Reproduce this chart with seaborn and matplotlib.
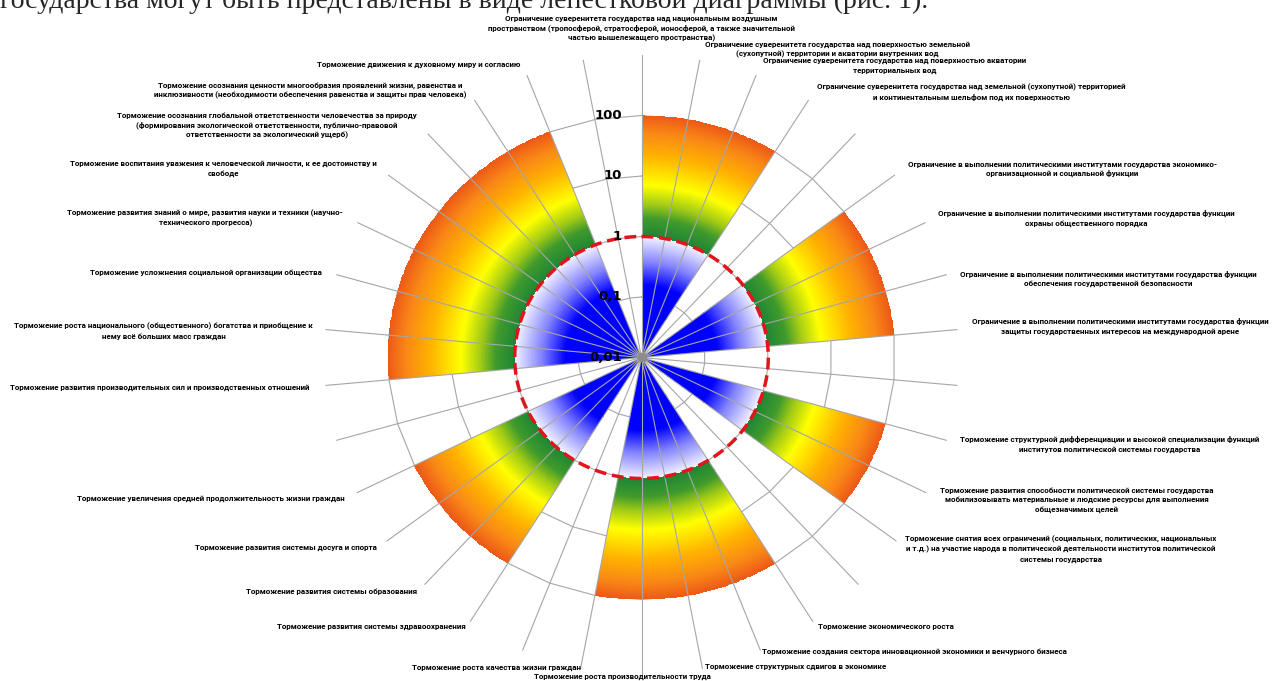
import numpy as np
import matplotlib
matplotlib.use('Agg')
import matplotlib.pyplot as plt
from matplotlib.colors import ListedColormap, Normalize
import seaborn as sns

# ! Spokes of the radar, clockwise from the top ('' = spoke without a caption)
categories = [
    'Ограничение суверенитета государства над национальным воздушным\nпространством (тропосферой, стратосферой, ионосферой, а также значительной\nчастью вышележащего пространства)',
    'Ограничение суверенитета государства над поверхностью земельной\n(сухопутной) территории и акватории внутренних вод',
    'Ограничение суверенитета государства над поверхностью акватории\nтерриториальных вод',
    'Ограничение суверенитета государства над земельной (сухопутной) территорией\nи континентальным шельфом под их поверхностью',
    '',
    'Ограничение в выполнении политическими институтами государства экономико-\nорганизационной и социальной функции',
    'Ограничение в выполнении политическими институтами государства функции\nохраны общественного порядка',
    'Ограничение в выполнении политическими институтами государства функции\nобеспечения государственной безопасности',
    'Ограничение в выполнении политическими институтами государства функции\nзащиты государственных интересов на международной арене',
    '',
    'Торможение структурной дифференциации и высокой специализации функций\nинститутов политической системы государства',
    'Торможение развития способности политической системы государства\nмобилизовывать материальные и людские ресурсы для выполнения\nобщезначимых целей',
    'Торможение снятия всех ограничений (социальных, политических, национальных\nи т.д.) на участие народа в политической деятельности институтов политической\nсистемы государства',
    '',
    'Торможение экономического роста',
    'Торможение создания сектора инновационной экономики и венчурного бизнеса',
    'Торможение структурных сдвигов в экономике',
    'Торможение роста производительности труда',
    'Торможение роста качества жизни граждан',
    '',
    'Торможение развития системы здравоохранения',
    'Торможение развития системы образования',
    'Торможение развития системы досуга и спорта',
    'Торможение увеличения средней продолжительность жизни граждан',
    '',
    'Торможение развития производительных сил и производственных отношений',
    'Торможение роста национального (общественного) богатства и приобщение к\nнему всё больших масс граждан',
    'Торможение усложнения социальной организации общества',
    'Торможение развития знаний о мире, развития науки и техники (научно-\nтехнического прогресса)',
    'Торможение воспитания уважения к человеческой личности, к ее достоинству и\nсвободе',
    'Торможение осознания глобальной ответственности человечества за природу\n(формирования экологической ответственности, публично-правовой\nответственности за экологический ущерб)',
    'Торможение осознания ценности многообразия проявлений жизни, равенства и\nинклюзивности (необходимости обеспечения равенства и защиты прав человека)',
    'Торможение движения к духовному миру и согласию',
    '',
]

# ! Petals: outer value of the sector between spoke k and spoke k+1 (0 = empty)
petal_top = [100, 100, 100, 0, 0, 100, 100, 100, 0, 0, 100, 100,
             0, 0, 100, 100, 100, 100, 0, 0, 100, 100, 100,
             0, 0, 100, 100, 100, 100, 100, 100, 100, 0, 0]
petal_base = 0.01
threshold = 1

r_ticks = [0.01, 0.1, 1, 10, 100]
r_tick_labels = ['0,01', '0,1', '1', '10', '100']

page_text = 'государства могут быть представлены в виде лепестковой диаграммы (рис. 1).'

# gradient stops, in decades above petal_base
inner_stops = [(0.0, '#0000ff'), (1.2, '#0000ff'), (1.6, '#8a8aff'), (2.0, '#f2f2ff')]
outer_stops = [(2.0, '#1e8535'), (2.3, '#3f9a2c'), (2.55, '#a6cd15'), (2.85, '#ffff00'),
               (3.35, '#ffb000'), (3.7, '#f98a16'), (4.0, '#ee5a17')]
grid_color = '#a6a6a6'

# caption nudges in pixels (right, down) from the end of each leader
label_nudge = [(0, -12.5), (5, -11), (7, -10), (8.5, -8), (0, 0), (13.5, -6), (12.5, -4.5),
               (13.5, 4), (15, -3), (0, 0), (13.5, 4), (14, 7), (9, 8), (0, 0), (5, 5),
               (2, 1), (2.5, -2), (-19.5, 1.5), (0, -1), (0, 0), (-5, 5), (-8, 7), (-10, 7),
               (-12, 6), (0, 0), (-16, 2), (-13, 1.5), (-14.5, -2.5), (-14.5, -4),
               (-11.5, -6.5), (-11, -8.5), (-8.5, -9.5), (-7, -11), (0, 0)]


def ramp(stops, per_unit=200):
    cols = []
    for (p0, c0), (p1, c1) in zip(stops[:-1], stops[1:]):
        cols += list(sns.blend_palette([c0, c1], n_colors=int(round((p1 - p0) * per_unit))))
    return cols


sns.set_theme(style='white')
plt.rcParams['font.family'] = ['Roboto', 'DejaVu Sans']

fig = plt.figure(figsize=(12.73, 6.81), dpi=100)
ax = fig.add_axes([0.25491, 0.030837, 0.49804, 0.88840], projection='polar')
ax.set_aspect('auto')
ax.set_theta_zero_location('N')
ax.set_theta_direction(-1)
ax.set_rscale('log')
ax.set_rlim(petal_base, 1000)
ax.set_axis_off()

n = len(categories)
spoke_theta = np.arange(n) * 2 * np.pi / n

# ! petals with a radial gradient
sub = 12
theta_edges = np.linspace(0, 2 * np.pi, n * sub + 1)
r_edges = np.logspace(np.log10(petal_base), np.log10(max(petal_top)), 321)
r_mid = np.sqrt(r_edges[:-1] * r_edges[1:])
level = np.log10(r_mid) - np.log10(petal_base)
top = np.repeat(petal_top, sub)
C = np.where(r_mid[:, None] < top[None, :], level[:, None], np.nan)
cmap = ListedColormap(ramp(inner_stops) + ramp(outer_stops))
ax.pcolormesh(theta_edges, r_edges, np.ma.masked_invalid(C), cmap=cmap,
              norm=Normalize(0, 4), shading='flat', zorder=2)

# ! polygon rings
ring_theta = np.append(spoke_theta, 2 * np.pi)
for v in r_ticks[1:]:
    ax.plot(ring_theta, np.full(ring_theta.size, v), color=grid_color, lw=0.8, zorder=1)

# ! spokes / leaders and captions
for th, label, (nx, ny) in zip(spoke_theta, categories, label_nudge):
    L = 5.0 + 0.25 * max(0.0, -np.cos(th)) ** 4
    r_end = petal_base * 10 ** L
    ax.plot([th, th], [petal_base, r_end], color=grid_color, lw=0.8, zorder=3, clip_on=False)
    if not label:
        continue
    s, c = np.sin(th), np.cos(th)
    if abs(s) < 0.03 and c > 0:
        ha, va = 'center', 'bottom'
    elif s > 0.05:
        ha, va = 'left', 'center'
    elif s < -0.15:
        ha, va = 'right', 'center'
    else:
        ha, va = 'center', 'center'
    ax.annotate(label, xy=(th, r_end), xytext=(nx * 0.72, -ny * 0.72), textcoords='offset points',
                ha=ha, va=va, multialignment='center', linespacing=1.4, fontsize=5.75,
                fontweight='bold', color='black', annotation_clip=False)

# ! threshold circle
circ = np.linspace(0, 2 * np.pi, 721)
ax.plot(circ, np.full(circ.size, threshold), color='#e3141b', lw=2.5,
        ls=(0, (3.4, 1.7)), zorder=4)
ax.plot(0, petal_base, 'o', ms=6, color='#8c8c8c', zorder=5)

# ! radial tick labels
for v, t in zip(r_ticks, r_tick_labels):
    ax.annotate(t, xy=(0, v), xytext=(-14, 0), textcoords='offset points',
                ha='right', va='center', fontsize=9.5, fontweight='bold',
                family='DejaVu Sans', color='black', zorder=6)

fig.text(0.0, 1 - 8 / 681, page_text, fontsize=20, family='Liberation Serif',
         va='baseline', ha='left')

fig.savefig('out.png', dpi=100, facecolor='white')
